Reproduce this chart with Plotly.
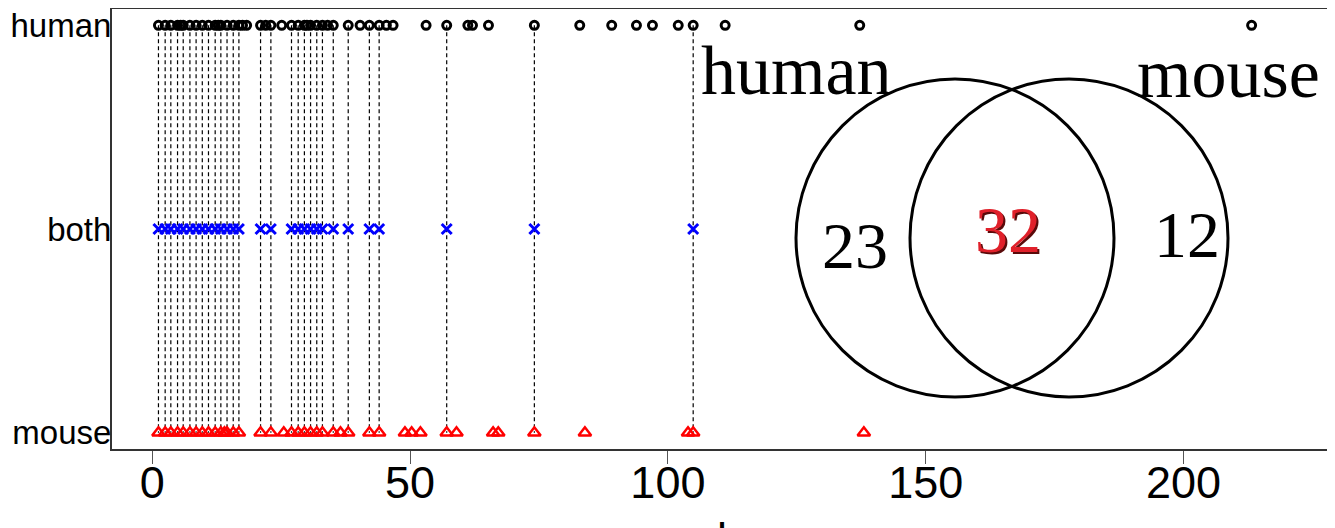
import plotly.graph_objects as go

# ---- data ----
rows = ["mouse", "both", "human"]
row_y = [1, 2, 3]

shared = [1.2, 2.5, 3.6, 4.9, 6.0, 7.3, 8.5, 9.7, 10.9, 12.2, 13.3, 14.5, 15.7,
          16.8, 21.0, 23.0, 27.0, 28.3, 29.5, 30.7, 31.9, 33.0, 35.1, 38.0,
          42.1, 44.0, 57.1, 74.1, 104.9]
human_only = [5.5, 12.8, 17.5, 18.3, 22.0, 25.1, 30.0, 34.0, 40.3, 45.4, 46.7,
              53.1, 61.2, 62.1, 65.2, 82.9, 89.1, 93.9, 97.0, 102.0, 111.1,
              137.2, 213.2]
mouse_only = [14.0, 25.5, 36.5, 49.0, 50.3, 52.0, 59.0, 66.1, 67.1, 83.9,
              103.9, 138.0]

venn_labels = ["human", "mouse"]
venn_counts = [23, 32, 12]
x_ticks = [0, 50, 100, 150, 200]
x_title = "l"

# ---- geometry (the page body has an 8px margin; positions below are window pixels) ----
OFF = 8
W, H = 1335 - OFF, 528 - OFF
L, R, T, B = 104, 5, 1, 79
PW, PH = W - L - R, H - T - B


def px(x):
    return (x - OFF - L) / PW


def py(y):
    return (H - B - (y - OFF)) / PH


human_x = sorted(shared + human_only)
mouse_x = sorted(shared + mouse_only)

fig = go.Figure()

# dashed connectors for shared items
lx, ly = [], []
for v in shared:
    lx += [v, v, None]
    ly += [row_y[2], row_y[0], None]
fig.add_trace(go.Scatter(x=lx, y=ly, mode="lines",
                         line=dict(color="black", width=1.2, dash="4px,3px"),
                         hoverinfo="skip", showlegend=False))

fig.add_trace(go.Scatter(x=human_x, y=[row_y[2]] * len(human_x), mode="markers",
                         marker=dict(symbol="circle-open", size=8, color="black",
                                     line=dict(width=3, color="black")),
                         showlegend=False))
fig.add_trace(go.Scatter(x=shared, y=[row_y[1]] * len(shared), mode="markers",
                         marker=dict(symbol="x-thin-open", size=10, color="#0000ff",
                                     line=dict(width=3, color="#0000ff")),
                         showlegend=False))
fig.add_trace(go.Scatter(x=mouse_x, y=[row_y[0]] * len(mouse_x), mode="markers",
                         marker=dict(symbol="triangle-up-open", size=11, color="#ff0000",
                                     line=dict(width=2.5, color="#ff0000")),
                         showlegend=False))

# Venn circles
circles = [(955, 238, 159), (1069, 238, 159)]
for cx, cy, r in circles:
    fig.add_shape(type="circle", xref="paper", yref="paper",
                  x0=px(cx - r), x1=px(cx + r), y0=py(cy + r), y1=py(cy - r),
                  line=dict(color="black", width=3))

serif = "Liberation Serif, Times New Roman, serif"


def label(x, y, text, size, color, family=serif, yanchor="middle", shadow=None):
    font = dict(family=family, size=size, color=color)
    if shadow:
        font["shadow"] = shadow
    fig.add_annotation(x=px(x), y=py(y), xref="paper", yref="paper", text=text,
                       xanchor="center", yanchor=yanchor, showarrow=False, font=font)


label(796, 71, venn_labels[0], 70, "black")
label(1228, 73, venn_labels[1], 70, "black")
label(855, 245, str(venn_counts[0]), 66, "black")
label(1008, 230, str(venn_counts[1]), 66, "#e0202a", shadow="2px 2px 0px #5a0a0a")
label(1187, 234, str(venn_counts[2]), 66, "black")

# clipped x-axis title
sans = "Liberation Sans, Arial, sans-serif"
label(722, 511, x_title, 45, "black", family=sans, yanchor="top")

fig.update_layout(
    width=W, height=H,
    margin=dict(l=L, r=R, t=T, b=B, pad=0, autoexpand=False),
    paper_bgcolor="white", plot_bgcolor="white",
    xaxis=dict(range=[-7.81, 228.4], tickvals=x_ticks, ticks="outside", ticklen=13,
               tickcolor="#555", tickwidth=1, showgrid=False, zeroline=False,
               showline=True, mirror=True, linecolor="#333", linewidth=2,
               automargin=False, ticklabeloverflow="allow", ticklabelstandoff=-20,
               tickfont=dict(family=sans, size=45, color="black")),
    yaxis=dict(range=[0.92, 3.08], tickvals=row_y, ticktext=rows, ticks="",
               showgrid=False, zeroline=False, showline=True, mirror=True,
               linecolor="#333", linewidth=2, ticklabelstandoff=-8, automargin=False,
               ticklabeloverflow="allow",
               tickfont=dict(family=sans, size=33, color="black")),
)

fig.write_html("out.html")
